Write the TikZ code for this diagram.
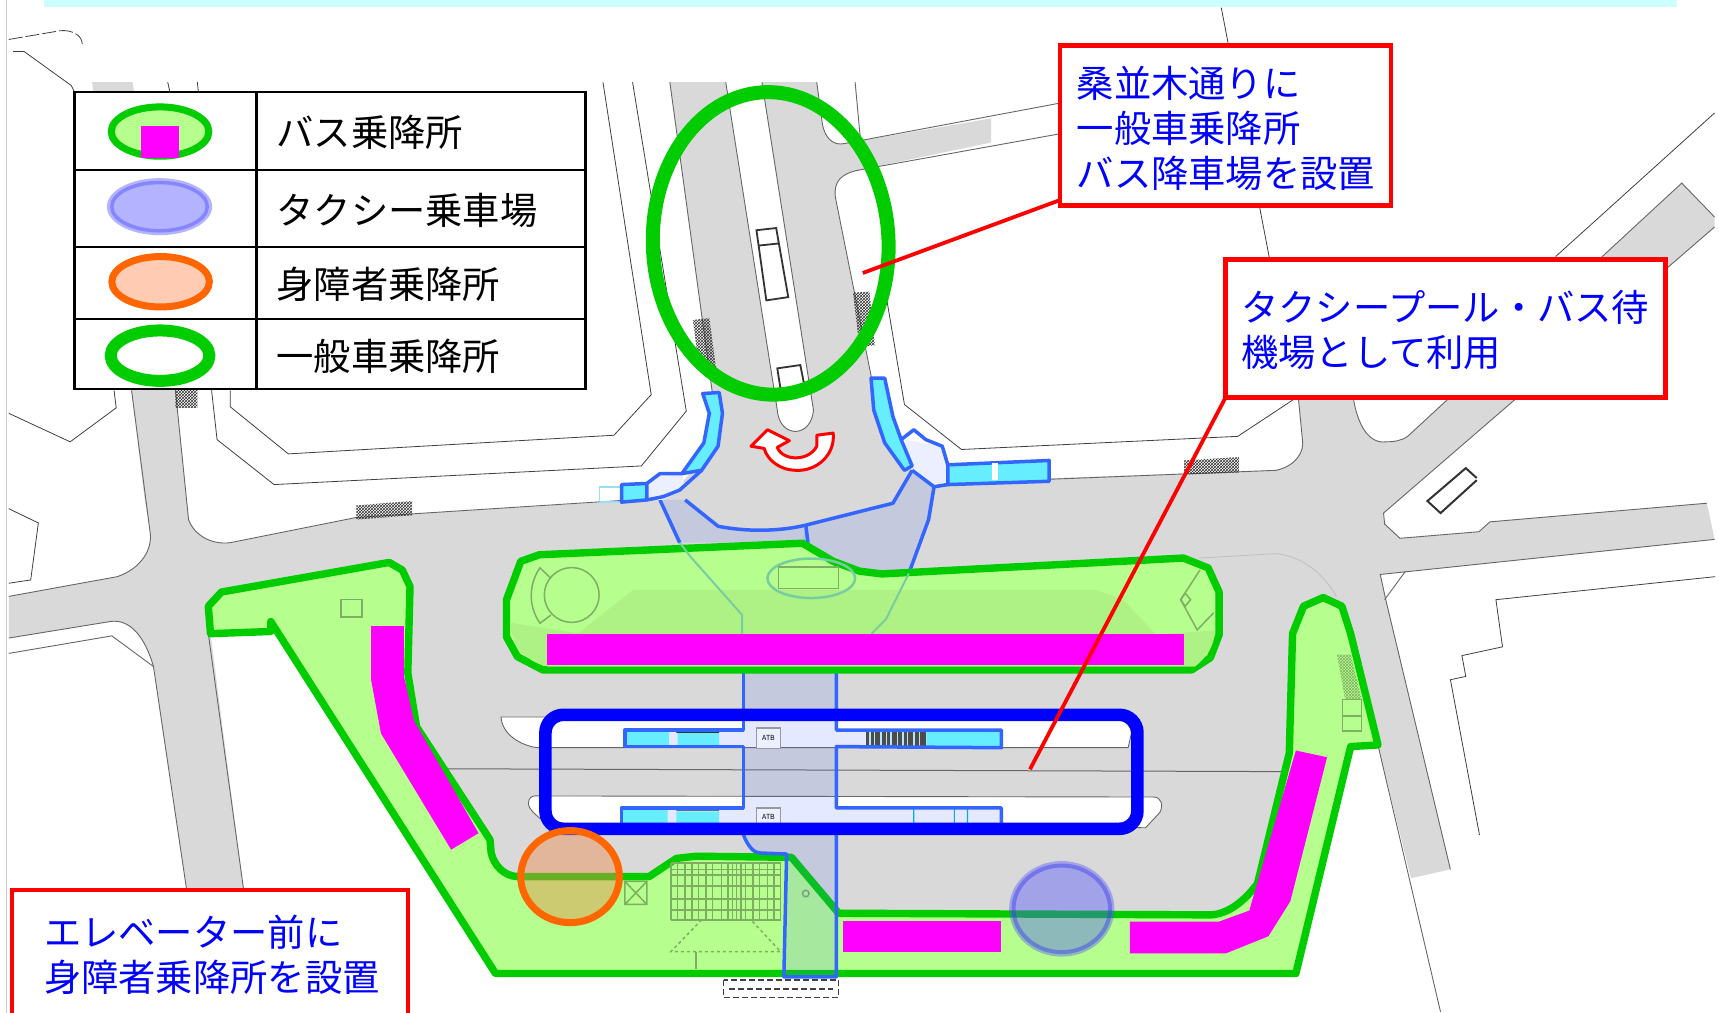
\documentclass[tikz,border=0pt]{standalone}
\usepackage{fontspec}
\usetikzlibrary{calc,patterns}
\setmainfont{Noto Sans CJK JP}
\definecolor{roadgray}{HTML}{D9D9D9}
\definecolor{edgegray}{HTML}{666666}
\definecolor{areagreen}{HTML}{B6FF8E}
\definecolor{areagreenB}{HTML}{AEF184}
\definecolor{strokegreen}{HTML}{00CC00}
\definecolor{detailgreen}{HTML}{7DAE62}
\definecolor{corrblue}{HTML}{3366FF}
\definecolor{stepcyan}{HTML}{66EEFF}
\definecolor{lav}{HTML}{EBEFFF}
\definecolor{bandcyan}{HTML}{CCFFFF}
\definecolor{taxi}{HTML}{B3B3FF}
\definecolor{taxiring}{HTML}{8585FF}
\definecolor{orangering}{HTML}{FF6600}
\definecolor{corrtint}{RGB}{80,110,255}
\definecolor{tealthrough}{RGB}{120,205,160}
\definecolor{orangetint}{RGB}{235,140,80}
\definecolor{bluetint}{RGB}{80,80,255}
\definecolor{bluering}{RGB}{60,60,240}
\definecolor{peach}{RGB}{255,204,179}
\definecolor{kerbmag}{RGB}{255,0,255}
\definecolor{pureblue}{RGB}{0,0,255}
\definecolor{purered}{RGB}{255,0,0}
\tikzset{
  roadedge/.style={draw=edgegray,line width=0.9pt},
  thinblack/.style={draw=black!75,line width=0.8pt},
  areashape/.style={draw=strokegreen,fill=areagreen,line width=7.4pt,line join=round},
  detail/.style={draw=detailgreen,line width=1.5pt},
  magpiece/.style={fill=kerbmag},
  corridor/.style={fill=corrtint,fill opacity=0.15},
  corrline/.style={draw=corrblue,line width=3.5pt,line join=round},
  stairs/.style={fill=stepcyan,draw=corrblue,line width=3.5pt,line join=round},
  callout/.style={draw=purered,fill=white,line width=4.5pt,rectangle,inner sep=0pt,outer sep=0pt},
  calltext/.style={text=pureblue,font=\fontsize{37.3}{45}\selectfont,align=left,anchor=west,inner sep=0pt},
  legendtext/.style={text=black,font=\fontsize{37.3}{45}\selectfont,anchor=west,inner sep=0pt},
  leaderline/.style={draw=purered,line width=3.8pt},
  hatchpatch/.style={pattern=crosshatch,pattern color=black!80},
}
\begin{document}
\begin{tikzpicture}[x=1.0963pt,y=-1.0963pt]
\useasboundingbox (0,0) rectangle (1568,924);
\fill[white] (0,0) rectangle (1568,924);
\fill[bandcyan] (40,0) rectangle (1530,6.5);
\draw[black!20,line width=1pt] (6,0) -- (6,924);

% road surface
\fill[roadgray] (8,544) -- (107,526) .. controls (130,518) and (139,500) .. (137,486) -- (132,456) -- (120,356) -- (84,75) -- (121,75) -- (160,356) -- (172,474)
  .. controls (178,490) and (195,497) .. (210,495) -- (325,472) -- (600,455)
  .. controls (635,440) and (650,400) .. (650,360) -- (611,75) -- (662,75) -- (709,374) .. controls (711,400) and (740,400) .. (742,374) -- (695,75) -- (745,75) -- (750,112)
  .. controls (752,126) and (760,133) .. (770,131) -- (904,108) -- (904,130) -- (784,155) .. controls (768,158) and (760,165) .. (762,180) -- (796,350) .. controls (802,400) and (825,435) .. (850,440)
  -- (1164,429) .. controls (1182,425) and (1190,412) .. (1188,401) -- (1184,360) -- (1234,360) .. controls (1238,390) and (1250,405) .. (1264,403) .. controls (1272,403) and (1278,402) .. (1284,398)
  -- (1534,167) -- (1564,198) -- (1564,207) -- (1262,468) -- (1263,478) -- (1277,491) -- (1349,485) -- (1359,476) -- (1557,459) -- (1564,492) -- (1259,524) -- (1264,547) -- (1323,793) -- (1287,801)
  -- (1257,680) -- (1232,681) -- (1182,888) -- (452,888) -- (247,567) -- (192,578) -- (222,810) -- (170,810) -- (140,608) .. controls (132,580) and (118,564) .. (100,567) -- (8,582) -- cycle;

% road edges
\draw[roadedge] (8,544) -- (107,526) .. controls (130,518) and (139,500) .. (137,486) -- (120,356);
\draw[roadedge] (160,356) -- (172,474) .. controls (178,490) and (195,497) .. (210,495) -- (325,472) -- (590,455);
\draw[roadedge] (611,75) -- (650,360);
\draw[roadedge] (662,75) -- (709,374) .. controls (711,400) and (740,400) .. (742,374) -- (695,75);
\draw[roadedge] (745,75) -- (750,112) .. controls (752,126) and (760,133) .. (770,131) -- (967,94);
\draw[roadedge] (967,122) -- (784,155) .. controls (768,158) and (760,165) .. (762,180) -- (796,350);
\draw[roadedge] (780,75) -- (785,129);
\draw[roadedge] (860,441) -- (1164,429) .. controls (1182,425) and (1190,412) .. (1188,401) -- (1184,360);
\draw[roadedge] (1234,360) .. controls (1238,390) and (1250,405) .. (1264,403) .. controls (1272,403) and (1278,402) .. (1284,398) -- (1534,167) -- (1564,198);
\draw[roadedge] (1564,207) -- (1262,468) -- (1263,478) -- (1277,491) -- (1349,485) -- (1359,476) -- (1557,459);
\draw[roadedge] (1564,492) -- (1259,524) -- (1264,547) -- (1323,793);
\draw[roadedge] (1282,521) -- (1263,547);
\draw[roadedge] (1257,680) -- (1314,923);
\draw[roadedge] (190,578) -- (222,810);
\draw[roadedge] (170,810) -- (140,608) .. controls (132,580) and (118,564) .. (100,567) -- (8,582);
\draw[roadedge] (8,596) -- (102,580) -- (140,608);

% other thin map lines
\draw[thinblack,dash pattern=on 14pt off 3pt] (8,36) -- (55,28) .. controls (65,27) and (75,32) .. (75,40);
\draw[thinblack] (12,47) -- (22,47) -- (65,78) -- (68,84);
\draw[thinblack] (8,377) -- (64,403) -- (106,372) -- (104,356);
\draw[thinblack] (8,464) -- (35,477) -- (28,529) -- (8,532);
\draw[thinblack] (153,75) -- (155,84);
\draw[thinblack] (180,75) -- (181,84);
\draw[thinblack] (550,75) -- (594,360) -- (560,397) -- (263,414) -- (210,371) -- (210,356);
\draw[thinblack] (577,75) -- (626,375) -- (585,425) -- (250,442) -- (198,401) -- (193,356);
\draw[thinblack] (809,274) -- (825,369) -- (877,410) -- (1129,398) -- (1182,363);
\draw[thinblack] (1114,7) -- (1158,236);
\draw[thinblack] (1564,103) -- (1419,234);
\draw[thinblack] (1564.5,526) -- (1364.5,547) -- (1370.5,590) -- (1333.5,598) -- (1337,617) -- (1323,620) -- (1349.5,761.6);
\draw[black!80,line width=2pt] (1347,436) -- (1337,427) -- (1302,457) -- (1314,468) -- (1347,438);
\draw[black!25,line width=0.8pt] (1094,509) -- (1164,505) .. controls (1185,507) and (1205,520) .. (1219,544);
\draw[black!15,line width=0.8pt] (377,530) -- (462,529);

% hatch patches
\path[hatchpatch] (325,461) -- (376,457) -- (376,470) -- (325,474) -- cycle;
\path[hatchpatch] (1080,420) -- (1130,417) -- (1130,431) -- (1080,433) -- cycle;
\path[hatchpatch] (160,356) rectangle (180,372);
\path[hatchpatch] (632,292) -- (647,290) -- (653,335) -- (638,337) -- cycle;
\path[hatchpatch] (778,267) -- (793,266) -- (798,315) -- (784,316) -- cycle;

% buses on median
\draw[black!80,line width=1.8pt] (690,210) -- (708,208) -- (719,271) -- (699,274) -- cycle (692,224) -- (711,222);
\draw[black!80,line width=1.8pt] (709,336) -- (730,333) -- (734,353) -- (712,355) -- cycle;

% white platforms
\draw[fill=white,draw=edgegray,line width=0.9pt] (457,654) -- (1015,654) .. controls (1025,656) and (1032,662) .. (1032,669) -- (1029,682) -- (490,682) .. controls (475,680) and (458,670) .. (457,654) -- cycle;
\draw[fill=white,draw=edgegray,line width=0.9pt] (488,726) -- (1052,727) .. controls (1060,727) and (1061,735) .. (1058,741) -- (1045,755) -- (500,752) .. controls (490,745) and (482,738) .. (482,733) .. controls (482,728) and (485,726) .. (488,726) -- cycle;
\draw[edgegray,line width=1pt] (337,701) -- (1224,704);

% corridor under the green areas
\path[corridor] (602,456) -- (620,495) -- (737,495) -- (735,479) -- (695,483) -- (655,480) -- (625,456) -- cycle;
\path[corridor] (735,479) -- (814.5,459) -- (832,429) -- (852,444) -- (847,474) -- (829,523) -- (804,523) -- (784,521) -- (760,512) -- (732,495) -- cycle;
\draw[corrline] (602,456) -- (620,495);
\draw[corrline] (625,456) -- (655,480) .. controls (680,485) and (710,485) .. (735,479) -- (814.5,459) -- (832,429);
\draw[corrline] (735,479) -- (737,495);
\draw[corrline] (852,444) -- (847,474) -- (829,523);
\path[corridor] (678,600) rectangle (763,666);
\path[corridor] (570,666) rectangle (913.5,681);
\path[corridor] (678,681) rectangle (763,737);
\path[corridor] (567,737) rectangle (913.5,752);
\path[corridor] (678,752) rectangle (763,761);
\fill[stepcyan] (570,667) rectangle (610,681) (618,667) rectangle (656,681) (845,667) rectangle (913,681);
\fill[black!70] (790,667) rectangle (845,681);
\foreach \xx in {793,797,803,808,812,818,823,827,833,838} \fill[white!70!cyan] (\xx,667) rectangle ++(1.5,14);
\fill[black!80] (617,667) rectangle (656,668.5) (617,738) rectangle (656,739.5);
\fill[stepcyan] (567,738) rectangle (609,752) (617,740) rectangle (656,752);
\fill[cyan] (833,738) rectangle ++(1,14) (870,738) rectangle ++(1,14) (882,738) rectangle ++(1,14);
\draw[corrline] (678,610) -- (678,666) -- (570,666) -- (570,681) -- (678,681) -- (678,737) -- (567,737) -- (567,752);
\draw[corrline] (763,610) -- (763,666) -- (913.5,666) -- (913.5,682) -- (763,681) -- (763,737) -- (913.5,737) -- (913.5,752);
\draw[black!40,fill=lav,line width=1.2pt] (690,664) rectangle (712,683) (690,737) rectangle (712,752);
\node[text=black,font=\fontsize{7}{8}\selectfont,inner sep=0pt] (liftA) at (701,673.5) {ATB};
\node[text=black,font=\fontsize{7}{8}\selectfont,inner sep=0pt] (liftB) at (701,745) {ATB};

% stairs near the intersection
\draw[cyan!40,line width=1.5pt] (547,444) rectangle (567,458);
\fill[lav] (588,456) -- (595,435) -- (622,432) -- (625,445) -- (605,456) -- cycle;
\fill[lav] (832,429) -- (825,401) -- (859,407) -- (865,424) -- (865,440) -- (852,444) -- cycle;
\draw[stairs] (641,359) -- (656,358) -- (659,377) -- (655,407) -- (640,429) -- (622,432) -- (642,404) -- (647,377) -- cycle;
\draw[stairs] (567,442) -- (590,441) -- (590,456) -- (567,458) -- cycle;
\draw[corrline] (590,441) -- (602,432) -- (622,432);
\draw[corrline] (640,429) -- (620,447) -- (605,453) -- (590,456);
\draw[stairs] (794.5,345) -- (807,345) -- (814.5,380) -- (822,401) -- (832,425) -- (825,429) -- (807,404) -- (797,374) -- cycle;
\draw[corrline] (822,401) -- (833.5,392) -- (844.5,401) -- (859.5,407) -- (864.5,424);
\draw[stairs] (864.5,424) -- (957,420) -- (957,439) -- (864.5,442) -- cycle;
\draw[corrline] (864.5,442) -- (852,444) -- (832,429);
\fill[white] (905,422) rectangle (910,438);

% red u-turn arrow
\draw[purered,fill=white,line width=3pt,line join=round] (700,392) -- (720,402) -- (709,408) .. controls (714,421) and (738,421) .. (745,407) -- (745,397) -- (760,395) .. controls (762,415) and (745,430) .. (726,429) .. controls (712,429) and (700,420) .. (697,409) -- (685,407) -- cycle;

% green areas
\path[areashape] (492,506) -- (732,495.5) -- (760,512) -- (784,521) -- (804.5,523.5) -- (1079.5,509) -- (1102,518) -- (1112,540) -- (1112,579) -- (1104,600) -- (1087,611) -- (495,611) -- (472,599) -- (462,581) -- (462,547) -- (475,512) -- cycle;
\fill[areagreenB] (465,568) .. controls (468,590) and (480,604) .. (500,608) -- (1090,608) .. controls (1100,600) and (1108,590) .. (1108,575) -- (1054.5,579) -- (1024.5,547) -- (999.5,538) -- (577.5,538) -- (527.5,577.6) -- cycle;
\path[areashape] (192,578) -- (190,553) -- (202,540) -- (355,513) -- (367,520) -- (374,535) -- (372,614) -- (380,663) -- (447,766) -- (448,778) .. controls (451,790) and (460,799) .. (472,799.6) -- (592,799.6) -- (617,783) -- (635,781) -- (722,782) -- (765,833) -- (1104,834.5) .. controls (1120,834) and (1135,822) .. (1147,806) -- (1176,687) -- (1179,578) -- (1189,553) -- (1207,545) -- (1224,553) -- (1232,578) -- (1257,679.5) -- (1232,681) -- (1182,888) -- (452,888) -- (247,567) -- (247,576) -- cycle;

% faint structures visible through the green
\draw[detail] (311,547) rectangle (330,563);
\draw[detail] (521.5,542.7) circle [radius=25];
\draw[detail] (502.5,527.4) -- (492.5,518) .. controls (484,530) and (480,550) .. (492.5,568.5) -- (502.5,561);
\draw[draw=tealthrough,line width=2.5pt] (740,527.5) ellipse [x radius=40,y radius=18];
\draw[detail] (710,517) rectangle (765,536.6);
\draw[detail] (1094.5,520) -- (1077,547) -- (1092,574.6) -- (1107,559);
\draw[detail] (1081,541) -- (1086,547) -- (1081,553) -- (1077,547) -- cycle;
\draw[detail] (1224.5,638) rectangle (1242,667) (1224.5,653) -- (1242,653);
\path[pattern=crosshatch,pattern color=detailgreen] (1219.5,597) -- (1232,597) -- (1242,638) -- (1227,638) -- cycle;
\draw[detail] (570,804) rectangle (590,825) (570,804) -- (590,825) (590,804) -- (570,825);
\foreach \xx in {612,618,625,631,637,644,650,658,664,668,672,676,680,687,693,700,706,712} \draw[detail] (\xx,787) -- (\xx,839);
\foreach \yy in {787,793,798,808,820,830,839} \draw[detail] (612,\yy) -- (712,\yy);
\draw[detail,dashed] (640,839) -- (612,868) -- (712,868) -- (685,839);
\draw[detail] (635,868) -- (635,884);
\draw[detail] (735,815) circle [radius=3];
\draw[draw=tealthrough,line width=2pt] (620,495) -- (630,508) -- (677,561) -- (677,578);
\draw[draw=tealthrough,line width=2pt] (829,523) -- (808,565) -- (795,578);

% magenta kerb zones
\fill[magpiece] (499,578) rectangle (1080,607);
\fill[magpiece] (338.5,571) -- (368.5,571) -- (368.5,617) -- (377.5,657) -- (436.5,760) -- (411.5,775) -- (347.5,669) -- (338.5,620) -- cycle;
\fill[magpiece] (769,840) rectangle (913.5,868);
\fill[magpiece] (1030.5,840.6) -- (1112,840.6) -- (1139.5,830.6) -- (1182,684.6) -- (1210.5,690.7) -- (1177,822) -- (1157,854) -- (1118.5,869.5) -- (1030.5,869.5) -- cycle;

% corridor over the green area
\path[corridor] (678,761) .. controls (682,772) and (688,778) .. (692.5,778) -- (717.5,779) -- (715,891) -- (763,891) -- (763,761) -- cycle;
\draw[corrline] (678,761) .. controls (682,772) and (688,778) .. (692.5,778) -- (717.5,779) -- (715,891) -- (763,891) -- (763,761);

% dashed footprint
\draw[black!75,dash pattern=on 6pt off 3pt,line width=1.5pt] (660,894) rectangle (765,910);
\draw[black!75,dash pattern=on 6pt off 3pt,line width=1.5pt] (665,902) -- (760,902);

% blue pool frame
\draw[draw=pureblue,line width=12.6pt,rounded corners=18pt] (497.5,652) rectangle (1037.5,756);

% markers
\fill[orangetint,fill opacity=0.45] (520,799.6) ellipse [x radius=45,y radius=42];
\draw[orangering,line width=7pt] (520,799.6) ellipse [x radius=45,y radius=42];
\fill[bluetint,fill opacity=0.4] (968.5,829) ellipse [x radius=48,y radius=43.6];
\draw[bluering,draw opacity=0.45,line width=4pt] (968.5,829) ellipse [x radius=44,y radius=39.5];
\draw[strokegreen,line width=14pt,rotate around={2.4:(703,222)}] (703,222) ellipse [x radius=107.5,y radius=138];

% legend table
\draw[black,fill=white,line width=2.2pt] (68,84) rectangle (534,355);
\draw[black,line width=2.2pt] (234,84) -- (234,355) (68,155) -- (534,155) (68,225) -- (534,225) (68,291) -- (534,291);
\draw[strokegreen,fill=areagreen,line width=7pt] (146,120) ellipse [x radius=44.5,y radius=22.5];
\fill[kerbmag] (129,114.6) rectangle (163,144);
\fill[taxi] (145.5,188.5) ellipse [x radius=48,y radius=26];
\draw[taxiring,line width=3.5pt] (145.5,188.5) ellipse [x radius=43.5,y radius=22];
\draw[orangering,fill=peach,line width=7pt] (146.5,257) ellipse [x radius=44.5,y radius=23];
\draw[strokegreen,fill=white,line width=12pt] (146,324.4) ellipse [x radius=45,y radius=23];
\node[legendtext] (leg1) at (252,121) {バス乗降所};
\node[legendtext] (leg2) at (252,191.5) {タクシー乗車場};
\node[legendtext] (leg3) at (252,259.5) {身障者乗降所};
\node[legendtext] (leg4) at (252,325) {一般車乗降所};

% callouts
\coordinate (tipA) at (787,249);
\coordinate (tipB) at (939.5,701.7);
\node[callout,minimum width=330.7pt,minimum height=160pt,anchor=north west] (boxA) at (967,41.5) {};
\node[callout,minimum width=440pt,minimum height=138pt,anchor=north west] (boxB) at (1118,236.5) {};
\node[callout,minimum width=396pt,minimum height=180pt,anchor=north west] (boxC) at (11,812) {};
\draw[leaderline] ($(boxA.south west)+(0,-5)$) -- (tipA);
\draw[leaderline] (boxB.south west) -- (tipB);
\node[calltext] (txtA) at (982,117) {桑並木通りに\\一般車乗降所\\バス降車場を設置};
\node[calltext] (txtB) at (1132,301) {タクシープール・バス待\\機場として利用};
\node[calltext] (txtC) at (40,871) {エレベーター前に\\身障者乗降所を設置};
\end{tikzpicture}
\end{document}
